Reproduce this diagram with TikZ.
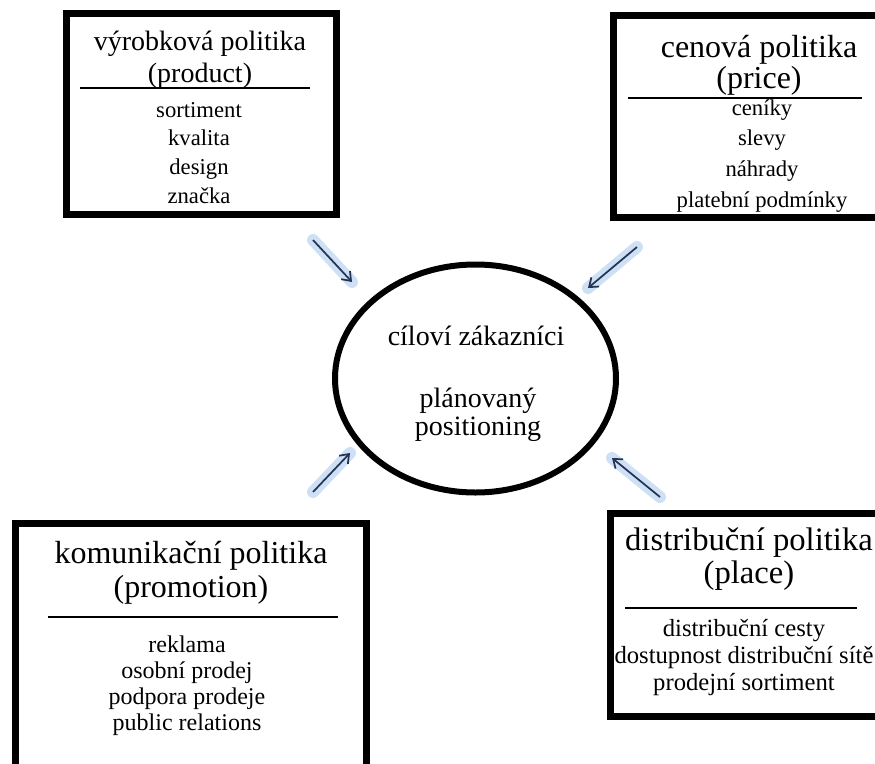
\documentclass[tikz,border=0pt]{standalone}
\usepackage{fontspec}
\setmainfont{Liberation Serif}
\usetikzlibrary{shapes.geometric,arrows.meta}
\definecolor{arrowline}{HTML}{243452}
\definecolor{arrowglow}{HTML}{9EC2EE}

\begin{document}
\begin{tikzpicture}[x=0.75pt,y=-0.75pt,
    frame/.style={draw,line width=5.25pt},
    divider/.style={line width=1.1pt},
    title/.style={anchor=base,align=center,font=\fontsize{24}{25}\selectfont},
    items/.style={anchor=base,align=center,font=\fontsize{18}{20}\selectfont},
    glow/.style={line width=9pt,line cap=round,arrowglow,opacity=0.5},
    pointer/.style={line width=1.3pt,arrowline,-{Straight Barb[length=6pt,width=9pt]}}]
    \useasboundingbox (0,0) rectangle (875,764);
    \clip (0,0) rectangle (875,764);

    % product
    \draw[frame] (66.5,13.5) rectangle (336.5,214.5);
    \node[title,font=\fontsize{21}{24}\selectfont] (product) at (200,82) {výrobková politika\\(product)};
    \draw[divider] (80,88) -- (310,88);
    \node[items,font=\fontsize{17}{21.5}\selectfont] (productitems) at (199,203) {sortiment\\kvalita\\design\\značka};

    % price
    \draw[frame] (613.5,15.5) rectangle (900,217);
    \node[title,font=\fontsize{24}{23.25}\selectfont] (price) at (759,88) {cenová politika\\(price)};
    \draw[divider] (628,98) -- (862,98);
    \node[items,font=\fontsize{17}{23}\selectfont] (priceitems) at (762,207) {ceníky\\slevy\\náhrady\\platební podmínky};

    % promotion
    \draw[frame] (15.5,523.5) rectangle (366.5,800);
    \node[title,font=\fontsize{24}{25.5}\selectfont] (promotion) at (191,597) {komunikační politika\\(promotion)};
    \draw[divider] (48,617) -- (338,617);
    \node[items,font=\fontsize{18}{19.5}\selectfont] (promotionitems) at (187,730) {reklama\\osobní prodej\\podpora prodeje\\public relations};

    % place
    \draw[frame] (610.5,513.5) rectangle (900,716.5);
    \node[title,font=\fontsize{24.5}{24.75}\selectfont] (place) at (749,583) {distribuční politika\\(place)};
    \draw[divider] (625,608) -- (857,608);
    \node[items,font=\fontsize{18.5}{19.9}\selectfont] (placeitems) at (744,690) {distribuční cesty\\dostupnost distribuční sítě\\prodejní sortiment};

    % target group
    \node[ellipse,draw,line width=4.5pt,minimum width=210.75pt,minimum height=171pt] (target) at (475.5,378.5) {};
    \node[anchor=base,font=\fontsize{21}{21}\selectfont] (customers) at (476,345) {cíloví zákazníci};
    \node[anchor=base,align=center,font=\fontsize{21}{21}\selectfont] (positioning) at (478,435) {plánovaný\\positioning};

    % arrows
    \coordinate (p1) at (313,240); \coordinate (q1) at (352,282);
    \coordinate (p2) at (637,247); \coordinate (q2) at (588,288);
    \coordinate (p3) at (313,492); \coordinate (q3) at (350,453);
    \coordinate (p4) at (660,497); \coordinate (q4) at (612,458);
    \foreach \i in {1,...,4} {
        \draw[glow] (p\i) -- (q\i);
        \draw[pointer] (p\i) -- (q\i);
    }
\end{tikzpicture}
\end{document}
